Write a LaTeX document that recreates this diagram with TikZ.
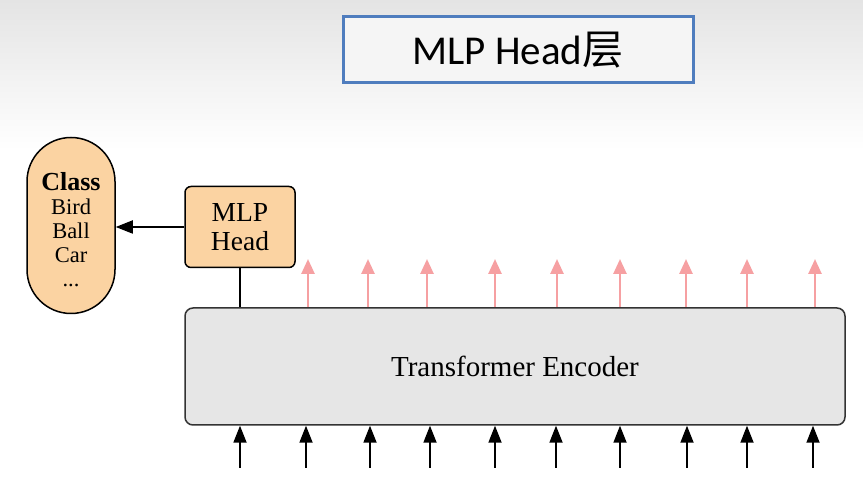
\documentclass[tikz,border=0pt]{standalone}
\usepackage{fontspec}
\setmainfont{Liberation Serif}
\newfontfamily\titlefont{Carlito}
\newfontfamily\cjkfont{Noto Sans CJK SC}
\usetikzlibrary{arrows.meta,shapes.misc}
\definecolor{peach}{RGB}{251,211,162}
\definecolor{encfill}{RGB}{230,230,230}
\definecolor{titleblue}{RGB}{79,125,190}
\definecolor{pinkarrow}{RGB}{246,160,162}
\definecolor{bgtop}{RGB}{228,228,228}
\tikzset{
  peachbox/.style={draw=black, line width=1.5pt, fill=peach, align=center, inner sep=0pt},
  encbox/.style={draw=black!80, line width=1.5pt, fill=encfill, rounded corners=8pt, inner sep=0pt},
  blackarrow/.style={draw=black, line width=1.8pt, -{Triangle[length=17pt,width=13pt]}},
  redarrow/.style={draw=pinkarrow, line width=2.6pt, -{Triangle[length=15pt,width=13pt]}},
  plainline/.style={draw=black, line width=1.8pt},
}
\begin{document}
\begin{tikzpicture}[x=1pt,y=-1pt]
\useasboundingbox (0,0) rectangle (863,478);
\fill[white] (0,0) rectangle (863,478);
\shade[top color=bgtop, bottom color=white] (0,0) rectangle (863,150);
% title
\node[draw=titleblue, line width=3pt, fill=black!4, minimum width=350pt, minimum height=66pt, inner sep=0pt] (title) at (518,50)
  {\titlefont\fontsize{41}{44}\selectfont MLP Head{\cjkfont 层}};
% class pill
\node[peachbox, rounded corners=44pt, minimum width=88pt, minimum height=176pt] (cls) at (71,225.5) {};
\node[align=center, inner sep=0pt, font=\fontsize{22.5}{24}\selectfont] (clstext) at (71,230)
  {{\fontsize{26}{24}\selectfont\bfseries Class}\\Bird\\Ball\\Car\\...};
% MLP head
\node[peachbox, rounded corners=6pt, minimum width=110pt, minimum height=81pt, font=\fontsize{27.5}{29}\selectfont] (mlp) at (240,227) {MLP\\Head};
% encoder
\node[encbox, minimum width=660pt, minimum height=117pt, font=\fontsize{29}{30}\selectfont] (enc) at (515,366.5) {Transformer Encoder};
% connectors
\draw[blackarrow] (mlp.west) -- (cls.east |- mlp.west);
\draw[plainline] (mlp.south) -- (enc.north -| mlp.south);
% red output arrows
\foreach \i/\x in {1/308,2/368,3/427,4/495,5/557,6/620,7/686,8/747,9/815} {
  \coordinate (r\i) at (\x,259);
  \draw[redarrow] (enc.north -| r\i) -- (r\i);
}
% black input arrows
\foreach \i/\x in {1/240,2/306,3/370,4/430,5/495,6/556,7/620,8/687,9/747,10/813} {
  \coordinate (b\i) at (\x,468);
  \draw[blackarrow] (b\i) -- (enc.south -| b\i);
}
\end{tikzpicture}
\end{document}
